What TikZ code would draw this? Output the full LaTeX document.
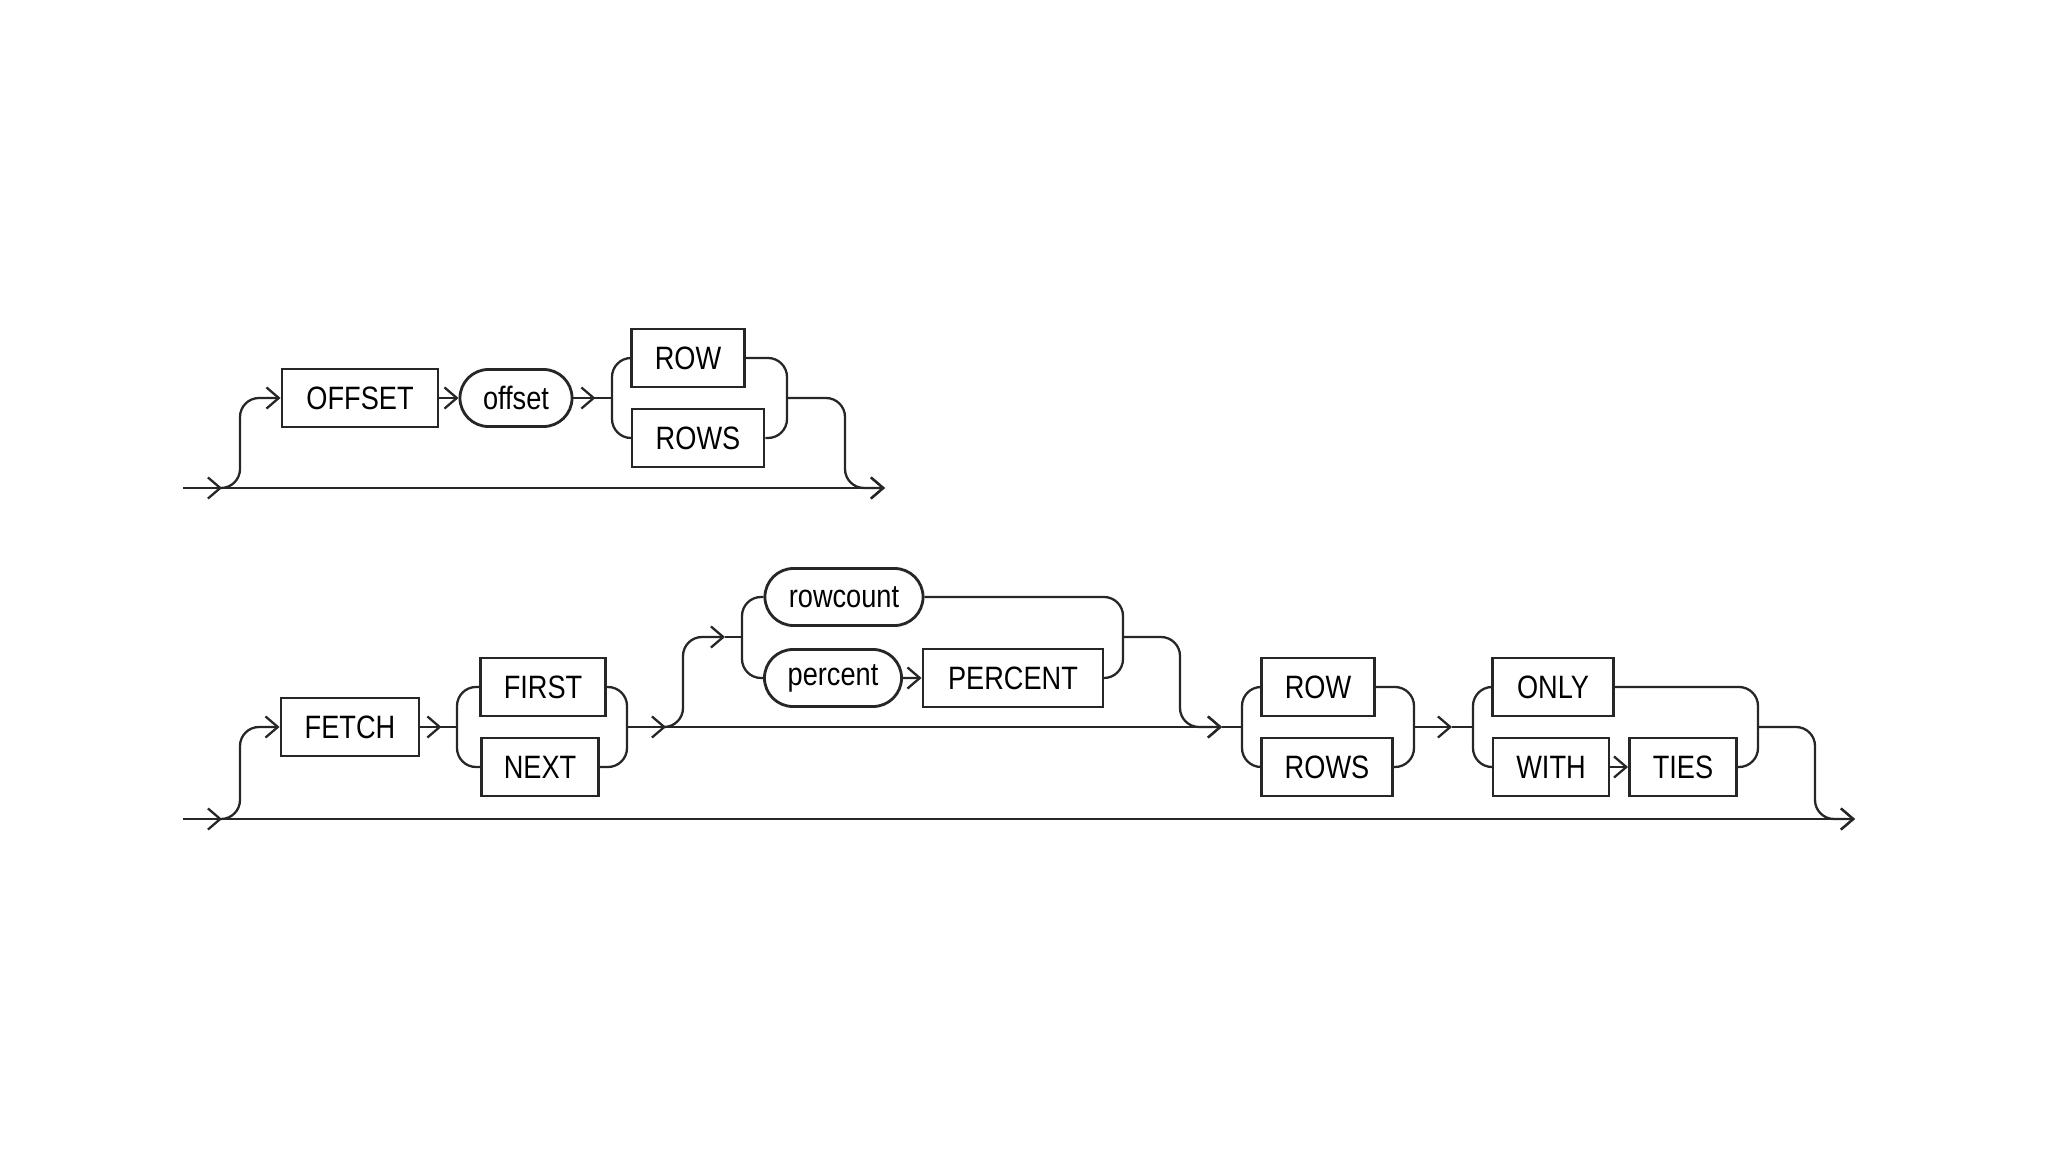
\documentclass[tikz,border=0pt]{standalone}
\usepackage{fontspec}
\setmainfont[FakeStretch=0.84]{Liberation Sans}
\usetikzlibrary{arrows.meta,shapes.misc}

\begin{document}
\begin{tikzpicture}[x=0.01cm, y=-0.01cm, line width=0.65pt, draw=black!85,
		>={Straight Barb[length=3.5pt,width=6pt]},
		kw/.style = {draw, rectangle, line width=0.8pt, minimum height=0.58cm, inner sep=0pt, font=\fontsize{9.2}{11}\selectfont},
		var/.style = {draw, rounded rectangle, line width=0.8pt, minimum height=0.57cm, inner sep=0pt, font=\fontsize{9.2}{11}\selectfont},
		rail/.style = {rounded corners=0.19cm}]
			
			\useasboundingbox (0,0) rectangle (2048,1152);
			
			% first diagram
			\node[kw, minimum width=1.56cm] (offkw) at (360,398) {OFFSET};
			\node[var, minimum width=1.12cm] (offvar) at (516,398) {offset};
			\node[kw, minimum width=1.13cm] (row1) at (688,358) {ROW};
			\node[kw, minimum width=1.32cm] (rows1) at (698,438) {ROWS};
			
			\coordinate (a0) at (183,488);
			\coordinate (a1) at (222,488);
			\coordinate (a2) at (612,398);
			\coordinate (a3) at (787,398);
			\coordinate (a4) at (885,488);
			
			\draw[->] (a0) -- (a1);
			\draw[->] (a1) -- (a4);
			\draw[->, rail] (a1) -- ++(18,0) |- (offkw.west);
			\draw[->] (offkw) -- (offvar);
			\draw (offvar.east) -- (a2);
			\draw[->] (offvar.east) -- ++(22,0);
			\draw[rail] (row1.west) -| (a2) |- (rows1.west);
			\draw[rail] (row1.east) -| (a3) |- (rows1.east);
			\draw[->, rail] (a3) -| ++(58,90) -- (a4);
			
			% second diagram
			\node[kw, minimum width=1.38cm] (fetch) at (350,727) {FETCH};
			\node[kw, minimum width=1.25cm] (first) at (543,687) {FIRST};
			\node[kw, minimum width=1.17cm] (next) at (540,767) {NEXT};
			\node[var, minimum width=1.58cm] (rowcount) at (844,597) {rowcount};
			\node[var, minimum width=1.37cm] (percent) at (833,678) {percent};
			\node[kw, minimum width=1.80cm] (pct) at (1013,678) {PERCENT};
			\node[kw, minimum width=1.13cm] (row2) at (1318,687) {ROW};
			\node[kw, minimum width=1.31cm] (rows2) at (1327,767) {ROWS};
			\node[kw, minimum width=1.21cm] (only) at (1553,687) {ONLY};
			\node[kw, minimum width=1.16cm] (with) at (1551,767) {WITH};
			\node[kw, minimum width=1.07cm] (ties) at (1683,767) {TIES};
			
			\coordinate (b0) at (183,819);
			\coordinate (b1) at (222,819);
			\coordinate (b2) at (457,727);
			\coordinate (b3) at (627,727);
			\coordinate (b4) at (666,727);
			\coordinate (b5) at (725,637);
			\coordinate (b6) at (742,637);
			\coordinate (b7) at (1222,727);
			\coordinate (b8) at (1123,637);
			\coordinate (b9) at (1242,727);
			\coordinate (b10) at (1414,727);
			\coordinate (b11) at (1452,727);
			\coordinate (b12) at (1473,727);
			\coordinate (b13) at (1758,727);
			\coordinate (b14) at (1855,819);
			
			\draw[->] (b0) -- (b1);
			\draw[->] (b1) -- (b14);
			\draw[->, rail] (b1) -- ++(18,0) |- (fetch.west);
			\draw (fetch.east) -- (b2);
			\draw[->] (fetch.east) -- ++(21,0);
			\draw[rail] (first.west) -| (b2) |- (next.west);
			\draw[rail] (first.east) -| (b3) |- (next.east);
			\draw[->] (b3) -- (b4);
			\draw[->] (b4) -- (b7);
			\draw[->, rail] (b4) -- ++(17,0) |- (b5);
			\draw (b5) -- (b6);
			\draw[rail] (rowcount.west) -| (b6) |- (percent.west);
			\draw[->] (percent) -- (pct);
			\draw[rail] (rowcount.east) -| (b8) |- (pct.east);
			\draw[->, rail] (b8) -| ++(57,90) -- (b7);
			\draw (b7) -- (b9);
			\draw[rail] (row2.west) -| (b9) |- (rows2.west);
			\draw[rail] (row2.east) -| (b10) |- (rows2.east);
			\draw[->] (b10) -- (b11);
			\draw (b11) -- (b12);
			\draw[rail] (only.west) -| (b12) |- (with.west);
			\draw[->] (with) -- (ties);
			\draw[rail] (only.east) -| (b13) |- (ties.east);
			\draw[->, rail] (b13) -| ++(57,92) -- (b14);
			
		\end{tikzpicture}
\end{document}
